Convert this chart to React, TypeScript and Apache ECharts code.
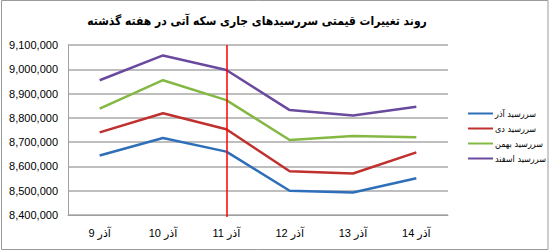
import React, { useEffect, useRef } from "react";
import * as echarts from "echarts";

const categories = ["9 آذر", "10 آذر", "11 آذر", "12 آذر", "13 آذر", "14 آذر"];
const azar = [8645000, 8717000, 8661000, 8500000, 8493000, 8551000];
const dey = [8740000, 8819000, 8753000, 8580000, 8571000, 8658000];
const bahman = [8838000, 8955000, 8873000, 8709000, 8725000, 8720000];
const esfand = [8955000, 9057000, 8997000, 8832000, 8810000, 8846000];
const seriesNames = ["سررسید آذر", "سررسید دی", "سررسید بهمن", "سررسید اسفند"];
const colors = ["#2F6FBA", "#C0302F", "#84B843", "#6A4A9E"];
const markerCategory = "11 آذر";
const title = "روند تغییرات قیمتی سررسیدهای جاری سکه آتی در هفته گذشته";

const FONT = "'Liberation Sans', 'DejaVu Sans', Arial, sans-serif";
const CFONT = "'DejaVu Sans Condensed', 'DejaVu Sans', sans-serif";

export default function App() {
  const ref = useRef<HTMLDivElement>(null);
  useEffect(() => {
    if (!ref.current) return;
    const chart = echarts.init(ref.current, null, { renderer: "svg" });
    const data = [azar, dey, bahman, esfand];
    chart.setOption({
      animation: false,
      backgroundColor: "#ffffff",
      textStyle: { fontFamily: FONT },
      title: {
        text: title,
        left: 252,
        textAlign: "center",
        top: 10,
        textStyle: { fontSize: 12, fontWeight: "bold", color: "#000", fontFamily: CFONT },
      },
      graphic: [
        {
          type: "rect",
          shape: { x: 1.5, y: 0.5, width: 546.5, height: 249 },
          style: { fill: "none", stroke: "#9a9a9a", lineWidth: 1 },
          silent: true,
        },
      ],
      legend: {
        orient: "vertical",
        left: 463,
        top: 104,
        itemGap: 6,
        itemWidth: 25,
        itemHeight: 13,
        icon: "path://M0,5 L25,5 L25,7 L0,7 Z",
        textStyle: { fontSize: 9, color: "#000", fontFamily: CFONT, padding: [0, 0, 0, -3] },
        data: seriesNames,
      },
      grid: { left: 68, right: 102, top: 45, bottom: 37 },
      xAxis: {
        type: "category",
        data: categories,
        boundaryGap: true,
        axisLine: { lineStyle: { color: "#a0a0a0", width: 1 } },
        axisTick: { show: false },
        axisLabel: { fontSize: 11, color: "#000", margin: 12, fontFamily: FONT },
      },
      yAxis: {
        type: "value",
        min: 8400000,
        max: 9100000,
        interval: 100000,
        axisLine: { show: true, lineStyle: { color: "#a0a0a0", width: 1 } },
        axisTick: { show: false },
        splitLine: { lineStyle: { color: "#a8a8a8", width: 1.5 } },
        axisLabel: {
          fontSize: 11,
          color: "#000",
          margin: 10,
          fontFamily: FONT,
          formatter: (v: number) => v.toLocaleString("en-US"),
        },
      },
      series: seriesNames.map((name, i) => ({
        name,
        type: "line",
        data: data[i],
        symbol: "none",
        color: colors[i],
        lineStyle: { width: 2.5, color: colors[i] },
        markLine:
          i === 0
            ? {
                silent: true,
                symbol: "none",
                label: { show: false },
                lineStyle: { color: "#ff0000", width: 1.5, type: "solid" },
                data: [[{ xAxis: markerCategory, y: 45 }, { xAxis: markerCategory, y: 217 }]],
              }
            : undefined,
      })),
    });
    return () => chart.dispose();
  }, []);
  return (
    <div
      ref={ref}
      style={{ position: "fixed", left: 0, top: 0, width: 550, height: 252 }}
    />
  );
}
